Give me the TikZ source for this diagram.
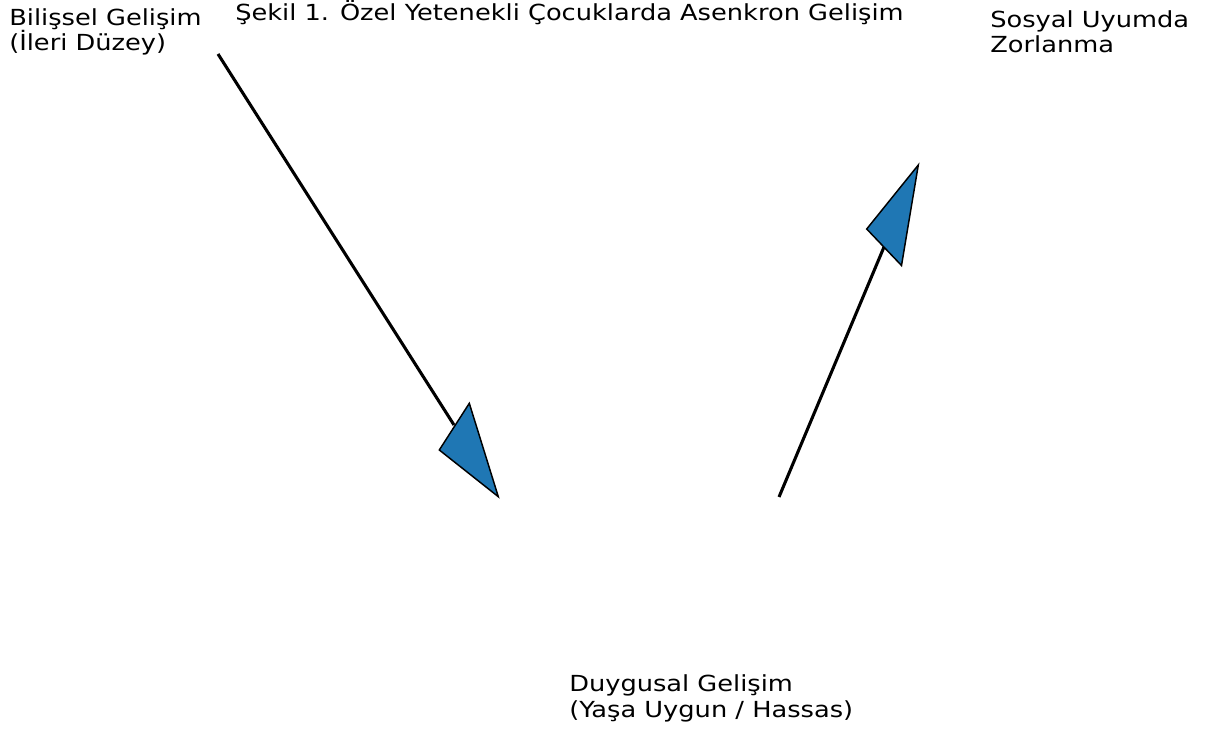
\documentclass[tikz,border=0pt]{standalone}
\usepackage{fontspec}
\setmainfont{DejaVu Sans}[FakeStretch=1.16]
\begin{document}
\begin{tikzpicture}[x=0.75pt,y=-0.75pt,
  lbl/.style={anchor=base west,align=left,inner sep=0pt,font=\fontsize{16.6pt}{19.3pt}\selectfont},
  shaft/.style={line width=2.3pt,black},
  head/.style={fill={rgb,255:red,31;green,119;blue,180},draw=black,line width=1.1pt,line join=miter}]
\useasboundingbox (0,0) rectangle (1206,731);
\node[lbl] (cog) at (9,51) {Bilişsel Gelişim\\(İleri Düzey)};
\node[lbl] (title) at (235,21) {Şekil 1. Özel Yetenekli Çocuklarda Asenkron Gelişim};
\node[lbl] (soc) at (990,53) {Sosyal Uyumda\\Zorlanma};
\node[lbl] (emo) at (569,717) {Duygusal Gelişim\\(Yaşa Uygun / Hassas)};
\coordinate (a1s) at (218,54);
\coordinate (a1b) at (454,425);
\coordinate (a1t) at (498.3,496.7);
\coordinate (a1l) at (439.3,450);
\coordinate (a1r) at (469.3,403.3);
\coordinate (a2s) at (779,497);
\coordinate (a2b) at (884,247);
\coordinate (a2t) at (918.3,165);
\coordinate (a2l) at (866.7,229);
\coordinate (a2r) at (901.5,265.5);
\draw[shaft] (a1s) -- (a1b);
\draw[head] (a1t) -- (a1l) -- (a1r) -- cycle;
\draw[shaft] (a2s) -- (a2b);
\draw[head] (a2t) -- (a2l) -- (a2r) -- cycle;
\end{tikzpicture}
\end{document}
